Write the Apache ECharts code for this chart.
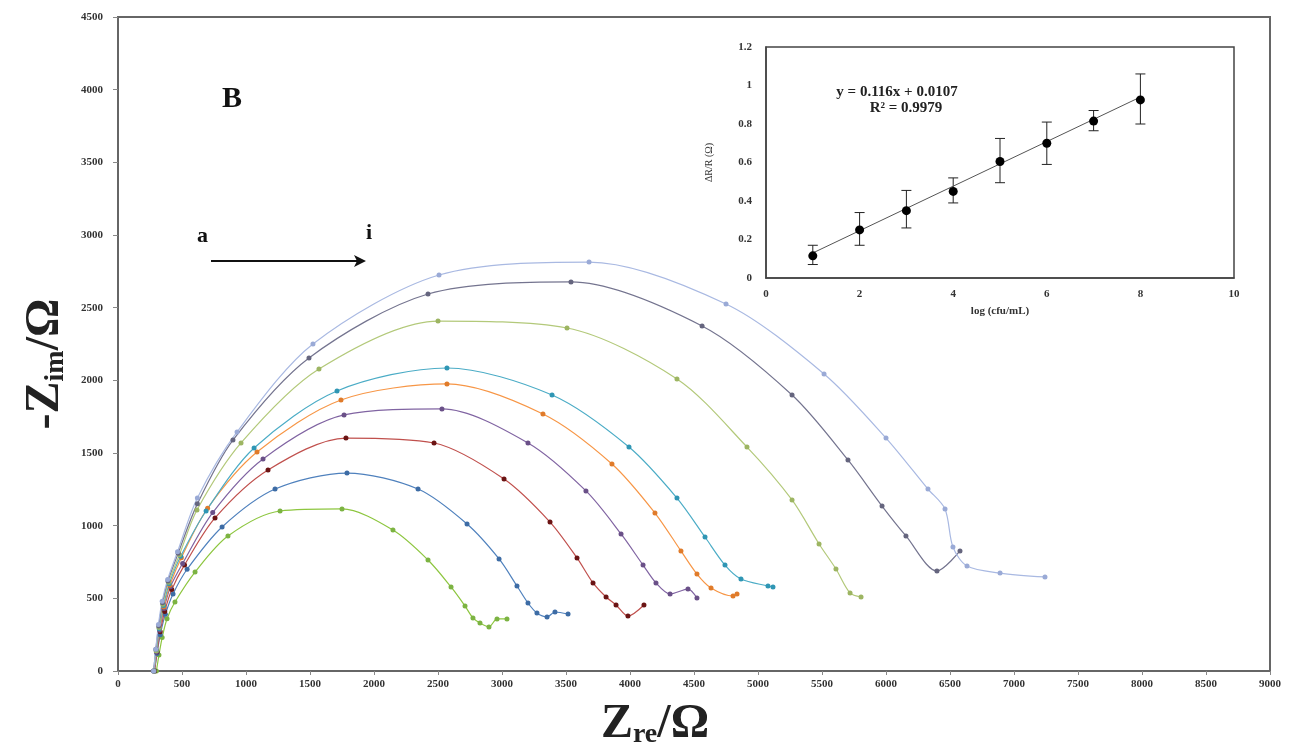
<!DOCTYPE html>
<html>
<head>
<meta charset="utf-8">
<script src="https://cdn.jsdelivr.net/npm/echarts@6/dist/echarts.min.js"></script>
<style>
  html, body { margin: 0; padding: 0; background: #fff; }
  #chart { width: 1291px; height: 748px; }
</style>
</head>
<body>
<div id="chart"></div>
<script>
// Nyquist curves a..i, [Zre, -Zim] in ohm
const curveA = [[300,0],[320,110],[345,230],[383,360],[445,475],[602,681],[859,929],[1266,1101],[1750,1115],[2148,970],[2422,764],[2602,578],[2711,447],[2773,365],[2828,330],[2898,303],[2961,358],[3039,358]];
const curveB = [[285,0],[305,120],[330,250],[370,390],[430,530],[540,700],[813,991],[1227,1252],[1789,1362],[2344,1252],[2727,1011],[2977,771],[3117,585],[3203,468],[3273,399],[3352,372],[3414,406],[3516,392]];
const curveC = [[285,0],[305,130],[330,270],[365,410],[420,560],[520,730],[758,1053],[1172,1383],[1781,1603],[2469,1569],[3016,1321],[3375,1025],[3586,778],[3711,606],[3813,509],[3891,454],[3984,378],[4109,454]];
const curveD = [[280,0],[300,130],[325,280],[360,430],[410,580],[505,740],[740,1090],[1133,1459],[1766,1762],[2531,1803],[3203,1569],[3656,1239],[3930,943],[4102,729],[4203,606],[4313,530],[4453,564],[4523,502]];
const curveE = [[280,0],[300,140],[325,290],[358,440],[405,590],[495,780],[700,1120],[1086,1507],[1742,1865],[2570,1975],[3320,1768],[3859,1424],[4195,1087],[4398,826],[4523,667],[4633,571],[4805,516],[4836,530]];
const curveF = [[280,0],[300,140],[322,290],[355,450],[400,600],[490,790],[688,1101],[1063,1534],[1711,1927],[2570,2085],[3391,1899],[3992,1541],[4367,1190],[4586,922],[4742,729],[4867,633],[5078,585],[5117,578]];
const curveG = [[280,0],[298,140],[320,300],[350,460],[395,610],[480,800],[617,1108],[961,1569],[1570,2078],[2500,2408],[3508,2360],[4367,2009],[4914,1541],[5266,1177],[5477,874],[5609,702],[5719,537],[5805,509]];
const curveH = [[278,0],[296,150],[318,310],[348,470],[390,620],[470,810],[620,1150],[898,1589],[1492,2154],[2422,2594],[3539,2677],[4563,2374],[5266,1899],[5703,1452],[5969,1135],[6156,929],[6398,688],[6578,826]];
const curveI = [[278,0],[295,150],[316,320],[345,480],[388,630],[465,820],[620,1190],[930,1645],[1523,2250],[2508,2725],[3680,2814],[4750,2525],[5516,2044],[6000,1603],[6328,1252],[6461,1115],[6523,853],[6633,722],[6891,674],[7242,647]];

// inset calibration
const logConc = [1, 2, 3, 4, 5, 6, 7, 8];
const deltaR = [0.115, 0.25, 0.35, 0.45, 0.605, 0.70, 0.815, 0.925];
const errLow = [0.07, 0.17, 0.26, 0.39, 0.495, 0.59, 0.765, 0.80];
const errHigh = [0.17, 0.34, 0.455, 0.52, 0.725, 0.81, 0.87, 1.06];
const trendX = [1, 8];
const trendY = [0.13, 0.94];

const serif = '"Liberation Serif", "DejaVu Serif", serif';

const curves = [
  { data: curveA, line: '#8dc63f', dot: '#7cb342' },
  { data: curveB, line: '#4f81bd', dot: '#3d6ca5' },
  { data: curveC, line: '#c0504d', dot: '#6b1414' },
  { data: curveD, line: '#8064a2', dot: '#6a5088' },
  { data: curveE, line: '#f79646', dot: '#e07b2a' },
  { data: curveF, line: '#4bacc6', dot: '#2f96b4' },
  { data: curveG, line: '#b3c97a', dot: '#9db562' },
  { data: curveH, line: '#74748f', dot: '#65657e' },
  { data: curveI, line: '#a9b9e2', dot: '#9aaad6' }
];

const chart = echarts.init(document.getElementById('chart'));

const tickLabel = { fontFamily: serif, fontWeight: 'bold', fontSize: 11, color: '#333', formatter: v => String(v) };

const titleRich = {
  m: { fontFamily: serif, fontWeight: 'bold', fontSize: 48, color: '#222' },
  s: { fontFamily: serif, fontWeight: 'bold', fontSize: 28, color: '#222', padding: [20, 0, 0, 0] }
};

const series = curves.map(c => ({
  type: 'line',
  xAxisIndex: 0,
  yAxisIndex: 0,
  data: c.data,
  smooth: 0.3,
  symbol: 'circle',
  symbolSize: 5,
  lineStyle: { color: c.line, width: 1.2 },
  itemStyle: { color: c.dot },
  animation: false
}));

series.push({
  type: 'line',
  xAxisIndex: 1,
  yAxisIndex: 1,
  data: trendX.map((x, i) => [x, trendY[i]]),
  symbol: 'none',
  lineStyle: { color: '#555', width: 1 },
  animation: false
});

series.push({
  type: 'custom',
  xAxisIndex: 1,
  yAxisIndex: 1,
  data: logConc.map((x, i) => [x, errLow[i], errHigh[i]]),
  renderItem(params, api) {
    const lo = api.coord([api.value(0), api.value(1)]);
    const hi = api.coord([api.value(0), api.value(2)]);
    const w = 5;
    const st = { stroke: '#222', lineWidth: 1 };
    return {
      type: 'group',
      children: [
        { type: 'line', shape: { x1: lo[0], y1: lo[1], x2: hi[0], y2: hi[1] }, style: st },
        { type: 'line', shape: { x1: lo[0] - w, y1: lo[1], x2: lo[0] + w, y2: lo[1] }, style: st },
        { type: 'line', shape: { x1: hi[0] - w, y1: hi[1], x2: hi[0] + w, y2: hi[1] }, style: st }
      ]
    };
  },
  animation: false
});

series.push({
  type: 'scatter',
  xAxisIndex: 1,
  yAxisIndex: 1,
  data: logConc.map((x, i) => [x, deltaR[i]]),
  symbol: 'circle',
  symbolSize: 9,
  itemStyle: { color: '#000', opacity: 1 },
  z: 5,
  animation: false
});

chart.setOption({
  backgroundColor: '#fff',
  grid: [
    { left: 118, right: 21, top: 17, bottom: 77, show: true, borderColor: '#666', borderWidth: 2, outerBoundsMode: 'none', containLabel: false },
    { left: 766, width: 468, top: 47, height: 231, show: true, borderColor: '#444', borderWidth: 1.5, backgroundColor: '#fff', outerBoundsMode: 'none', containLabel: false }
  ],
  xAxis: [
    {
      gridIndex: 0, type: 'value', min: 0, max: 9000, interval: 500,
      axisLine: { lineStyle: { color: '#666', width: 2 } },
      axisTick: { show: true, length: 4, lineStyle: { color: '#888' } },
      axisLabel: Object.assign({ margin: 8 }, tickLabel),
      splitLine: { show: false },
      name: '{m|Z}{s|re}{m|/Ω}',
      nameLocation: 'middle',
      nameGap: 30,
      nameTextStyle: { rich: titleRich, padding: [0, 78, 0, 0] }
    },
    {
      gridIndex: 1, type: 'value', min: 0, max: 10, interval: 2,
      axisLine: { lineStyle: { color: '#444', width: 1.5 } },
      axisTick: { show: false },
      axisLabel: Object.assign({ margin: 11 }, tickLabel, { fontSize: 11 }),
      splitLine: { show: false },
      name: 'log (cfu/mL)',
      nameLocation: 'middle',
      nameGap: 28,
      nameTextStyle: { fontFamily: serif, fontWeight: 'bold', fontSize: 11, color: '#333' }
    }
  ],
  yAxis: [
    {
      gridIndex: 0, type: 'value', min: 0, max: 4500, interval: 500,
      axisLine: { lineStyle: { color: '#666', width: 2 } },
      axisTick: { show: true, length: 5, lineStyle: { color: '#888' } },
      axisLabel: Object.assign({ margin: 15 }, tickLabel),
      splitLine: { show: false },
      name: '{m|-Z}{s|im}{m|/Ω}',
      nameLocation: 'middle',
      nameGap: 48,
      nameRotate: 90,
      nameTextStyle: { rich: titleRich, padding: [0, 40, 0, 0] }
    },
    {
      gridIndex: 1, type: 'value', min: 0, max: 1.2, interval: 0.2,
      axisLine: { lineStyle: { color: '#444', width: 1.5 } },
      axisTick: { show: false },
      axisLabel: Object.assign({ margin: 14 }, tickLabel, { fontSize: 11 }),
      splitLine: { show: false },
      name: 'ΔR/R (Ω)',
      nameLocation: 'middle',
      nameGap: 52,
      nameRotate: 90,
      nameTextStyle: { fontFamily: serif, fontSize: 10, color: '#333' }
    }
  ],
  graphic: [
    { type: 'text', left: 222, top: 84, style: { text: 'B', font: 'bold 30px ' + serif, fill: '#111' } },
    { type: 'text', left: 197, top: 225, style: { text: 'a', font: 'bold 22px ' + serif, fill: '#111' } },
    { type: 'text', left: 366, top: 222, style: { text: 'i', font: 'bold 22px ' + serif, fill: '#111' } },
    { type: 'line', shape: { x1: 211, y1: 261, x2: 362, y2: 261 }, style: { stroke: '#111', lineWidth: 2 } },
    { type: 'polygon', shape: { points: [[366, 261], [354, 255], [357, 261], [354, 267]] }, style: { fill: '#111' } },
    { type: 'text', x: 897, y: 92, style: { text: 'y = 0.116x + 0.0107', font: 'bold 15px ' + serif, fill: '#222', align: 'center', verticalAlign: 'middle' } },
    { type: 'text', x: 906, y: 108, style: { text: 'R² = 0.9979', font: 'bold 15px ' + serif, fill: '#222', align: 'center', verticalAlign: 'middle' } }
  ],
  series: series
});
</script>
</body>
</html>
